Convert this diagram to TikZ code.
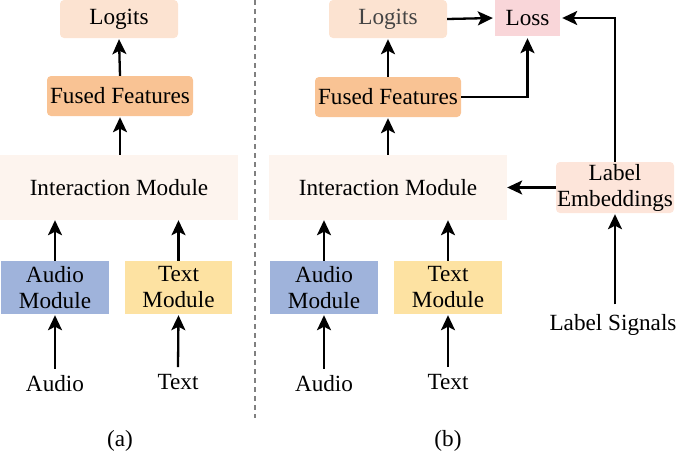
\documentclass[tikz,border=0pt]{standalone}
\usepackage{fontspec}
\setmainfont{Liberation Serif}
\usetikzlibrary{arrows.meta,positioning}
\definecolor{logitc}{HTML}{FCE3D1}
\definecolor{fusedc}{HTML}{F9C394}
\definecolor{interc}{HTML}{FDF4EE}
\definecolor{audioc}{HTML}{9FB3DB}
\definecolor{textc}{HTML}{FDE2A2}
\definecolor{lossc}{HTML}{F9D6D9}
\definecolor{labelc}{HTML}{FDE5DA}
\definecolor{txtgrey}{HTML}{444444}
\tikzset{
  box/.style={inner sep=0pt, align=center, text=black},
  rbox/.style={box, rounded corners=4pt},
  plain/.style={inner sep=0pt, align=center, text=black},
  arr/.style={line width=2.3pt, -{Stealth[length=15pt,width=14pt,inset=3.5pt]}},
}
\begin{document}
\begin{tikzpicture}[x=1pt,y=-1pt,font=\fontsize{23.2}{26}\selectfont]
\useasboundingbox (0,0) rectangle (681,456);
% (a)
\node[rbox, fill=logitc, minimum width=118pt, minimum height=38pt] (logA) at (119,19) {Logits};
\node[rbox, fill=fusedc, minimum width=146pt, minimum height=40pt] (fusA) at (120,96) {Fused Features};
\node[box, fill=interc, minimum width=238pt, minimum height=65pt] (intA) at (119,187.5) {Interaction Module};
\node[box, fill=audioc, minimum width=108pt, minimum height=53pt] (audA) at (55,287.5) {Audio\\Module};
\node[box, fill=textc, minimum width=107pt, minimum height=53pt] (txtA) at (178.5,287.5) {Text\\Module};
\node[plain] (audioA) at (55,384) {Audio};
\node[plain] (textA) at (178,382) {Text};
\node[plain] (capA) at (120,441) {(a)};
\draw[arr] (fusA.north) -- ([yshift=-1pt]logA.south);
\draw[arr] (intA.north -| fusA.north) -- ([yshift=-1pt]fusA.south);
\draw[arr] (audA.north) -- (audA.north |- intA.south);
\draw[arr] (txtA.north) -- (txtA.north |- intA.south);
\draw[arr] ([yshift=7pt]audioA.north) -- ([yshift=-1pt]audA.south);
\draw[arr] ([yshift=7pt]textA.north) -- ([yshift=-1pt]txtA.south);
% divider
\coordinate (dtop) at (255,0);
\coordinate (dbot) at (255,418);
\draw[line width=1.4pt, gray, dash pattern=on 5pt off 4pt] (dtop) -- (dbot);
% (b)
\node[rbox, fill=logitc, minimum width=118pt, minimum height=38pt, text=txtgrey] (logB) at (388,19) {Logits};
\node[box, fill=lossc, minimum width=65pt, minimum height=36pt] (loss) at (527.5,18) {Loss};
\node[rbox, fill=fusedc, minimum width=146pt, minimum height=40pt] (fusB) at (388,97) {Fused Features};
\node[box, fill=interc, minimum width=238pt, minimum height=65pt] (intB) at (388,187.5) {Interaction Module};
\node[rbox, fill=labelc, minimum width=118pt, minimum height=51pt] (lab) at (615,187.5) {Label\\Embeddings};
\node[box, fill=audioc, minimum width=108pt, minimum height=53pt] (audB) at (324,287.5) {Audio\\Module};
\node[box, fill=textc, minimum width=108pt, minimum height=53pt] (txtB) at (448,287.5) {Text\\Module};
\node[plain] (audioB) at (324,384) {Audio};
\node[plain] (textB) at (448,382) {Text};
\node[plain] (labsig) at (613,325) {Label Signals};
\node[plain] (capB) at (448,441) {(b)};
\draw[arr] (fusB.north) -- ([yshift=-1pt]logB.south);
\draw[arr] (intB.north -| fusB.north) -- ([yshift=-1pt]fusB.south);
\draw[arr] (audB.north) -- (audB.north |- intB.south);
\draw[arr] (txtB.north) -- (txtB.north |- intB.south);
\draw[arr] ([yshift=7pt]audioB.north) -- ([yshift=-1pt]audB.south);
\draw[arr] ([yshift=7pt]textB.north) -- ([yshift=-1pt]txtB.south);
\draw[arr] ([yshift=10pt]labsig.north -| lab.south) -- ([yshift=-1pt]lab.south);
\draw[arr] (logB.east) -- ([xshift=-2pt]loss.west);
\draw[arr] (fusB.east) -| ([yshift=-2pt]loss.south);
\draw[arr] (lab.north) |- ([xshift=2pt]loss.east);
\draw[arr] (lab.west) -- (intB.east);
\end{tikzpicture}
\end{document}
